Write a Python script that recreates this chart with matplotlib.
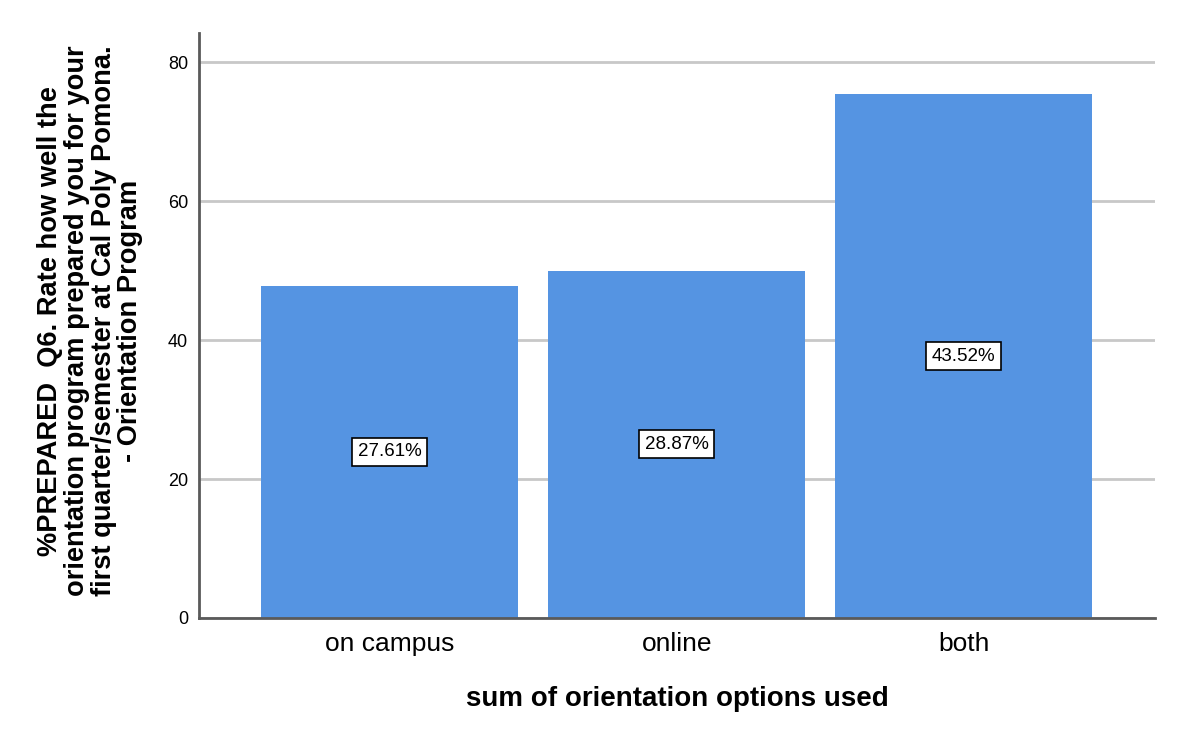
import matplotlib
matplotlib.use('Agg')
import matplotlib.pyplot as plt

plt.rcParams['font.family'] = ['Liberation Sans', 'DejaVu Sans']

# data
categories = ['on campus', 'online', 'both']
values = [47.8, 50.0, 75.4]
pct_labels = ['27.61%', '28.87%', '43.52%']
yticks = [0, 20, 40, 60, 80]

bar_color = '#5594e2'

fig = plt.figure(figsize=(12, 7.41), dpi=100, facecolor='white')
ax = fig.add_axes([0.166, 0.166, 0.7965, 0.7895])

x = list(range(len(categories)))
ax.bar(x, values, width=0.895, color=bar_color, zorder=2)

for i in x:
    ax.text(i, values[i] / 2, pct_labels[i], ha='center', va='center', fontsize=13.5,
            zorder=3, bbox=dict(boxstyle='square,pad=0.3', fc='white', ec='black', lw=1.2))

ax.set_xlim(-0.664, 2.667)
ax.set_ylim(0, 84.2)
ax.set_yticks(yticks)
ax.yaxis.grid(True, color='#c8c8c8', linewidth=2, zorder=1)
ax.set_axisbelow(True)
ax.set_xticks(x)
ax.set_xticklabels(categories, fontsize=19)
ax.tick_params(axis='y', labelsize=13, length=0, pad=8)
ax.tick_params(axis='x', length=0, pad=10)

for s in ['top', 'right']:
    ax.spines[s].set_visible(False)
for s in ['left', 'bottom']:
    ax.spines[s].set_color('#5a5a5a')
    ax.spines[s].set_linewidth(2)

ax.set_xlabel('sum of orientation options used', fontsize=20, fontweight='bold', labelpad=22)
ax.set_ylabel('%PREPARED  Q6. Rate how well the\norientation program prepared you for your\n'
              'first quarter/semester at Cal Poly Pomona.\n- Orientation Program',
              fontsize=19.6, fontweight='bold', linespacing=1.03)
ax.yaxis.set_label_coords(-0.0586, 0.508)

fig.savefig('out.png', dpi=100, facecolor='white')
